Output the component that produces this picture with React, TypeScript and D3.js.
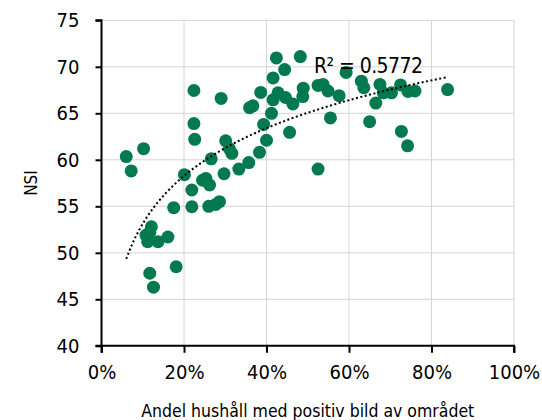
import React, { useEffect, useRef } from 'react';
import * as d3 from 'd3';

// share of households with a positive image of the area (%)
const share = [
  6.0, 10.2, 7.2, 12.1, 10.8, 11.7, 11.2, 13.7, 16.1, 18.1, 11.7, 12.6,
  17.5, 20.1, 21.9, 21.9, 22.6, 22.4, 22.4, 24.5, 25.3, 26.2, 26.0, 27.7,
  28.6, 26.6, 29.0, 29.7, 30.1, 31.0, 31.6, 33.3, 35.7, 35.9, 36.7, 38.3,
  39.3, 40.0, 38.6, 41.2, 41.6, 41.6, 42.4, 42.8, 44.4, 44.6, 46.4, 45.6,
  48.2, 48.9, 48.8, 52.5, 52.5, 53.7, 54.9, 55.5, 57.6, 59.3, 63.0, 63.6,
  65.0, 66.5, 67.5, 68.3, 70.3, 72.5, 72.7, 74.2, 74.3, 76.0, 83.9,
];
// NSI value for each area
const nsi = [
  60.35, 61.2, 58.8, 52.8, 51.9, 52.2, 51.2, 51.2, 51.7, 48.5, 47.8, 46.3,
  54.85, 58.4, 56.75, 54.95, 62.2, 63.9, 67.45, 57.8, 58.0, 57.3, 55.0, 55.2,
  55.5, 60.1, 66.6, 58.5, 62.05, 61.2, 60.7, 59.0, 59.7, 65.6, 65.8, 60.8,
  63.8, 62.1, 67.25, 65.0, 66.45, 68.8, 70.95, 67.2, 69.7, 66.7, 66.0, 62.95,
  71.1, 67.7, 66.8, 59.0, 68.0, 68.1, 67.4, 64.5, 66.9, 69.4, 68.45, 67.75,
  64.1, 66.1, 68.1, 67.2, 67.2, 68.05, 63.05, 61.5, 67.35, 67.4, 67.55,
];
const xTicks = [0, 20, 40, 60, 80, 100];
const yTicks = [40, 45, 50, 55, 60, 65, 70, 75];
const r2Label = 'R² = 0.5772';

export default function App() {
  const ref = useRef<SVGSVGElement>(null);

  useEffect(() => {
    const font = '"DejaVu Sans Condensed", "DejaVu Sans", sans-serif';
    const green = '#03794f';

    const svg = d3.select(ref.current);
    svg.selectAll('*').remove();

    const x = d3.scaleLinear().domain([0, 100]).range([101.5, 514]);
    const y = d3.scaleLinear().domain([40, 75]).range([345.8, 20.3]);

    // 网格线
    const grid = svg.append('g');
    grid
      .selectAll('line.v')
      .data(xTicks.slice(1))
      .enter()
      .append('line')
      .attr('x1', (d) => x(d))
      .attr('x2', (d) => x(d))
      .attr('y1', y(40))
      .attr('y2', y(75))
      .attr('stroke', '#d4d4d4')
      .attr('stroke-width', 1);
    grid
      .selectAll('line.h')
      .data(yTicks.slice(1))
      .enter()
      .append('line')
      .attr('x1', x(0))
      .attr('x2', x(100))
      .attr('y1', (d) => y(d))
      .attr('y2', (d) => y(d))
      .attr('stroke', '#d4d4d4')
      .attr('stroke-width', 1);

    // 坐标轴
    const xAxis = d3
      .axisBottom(x)
      .tickValues(xTicks)
      .tickSize(7)
      .tickPadding(12)
      .tickFormat((d) => `${d}%`);
    const gx = svg
      .append('g')
      .attr('transform', `translate(0,${y(40)})`)
      .call(xAxis);
    const yAxis = d3.axisLeft(y).tickValues(yTicks).tickSize(6).tickPadding(16);
    const gy = svg
      .append('g')
      .attr('transform', `translate(${x(0)},0)`)
      .call(yAxis);

    [gx, gy].forEach((g) => {
      g.select('.domain')
        .attr('stroke', '#000')
        .attr('stroke-width', 2);
      g.selectAll('.tick line').attr('stroke', '#000').attr('stroke-width', 2);
      g.selectAll('.tick text')
        .attr('fill', '#000')
        .style('font-family', font)
        .style('font-size', '20px');
    });
    gx.select('.domain').attr('d', `M${x(0)},7V0H${x(100)}V7`);
    gy.select('.domain').attr('d', `M-6,${y(75)}H0V${y(40)}H-6`);

    // 数据点
    const data = share.map((s, i) => [s, nsi[i]]);
    svg
      .append('g')
      .selectAll('circle')
      .data(data)
      .enter()
      .append('circle')
      .attr('cx', (d) => x(d[0]))
      .attr('cy', (d) => y(d[1]))
      .attr('r', 6.5)
      .attr('fill', green);

    // 对数趋势线 y = a ln(x) + b
    const lx = data.map((d) => Math.log(d[0] / 100));
    const mx = d3.mean(lx) as number;
    const my = d3.mean(nsi) as number;
    const a =
      d3.sum(lx, (v, i) => (v - mx) * (nsi[i] - my)) /
      d3.sum(lx, (v) => (v - mx) * (v - mx));
    const b = my - a * mx;
    const [x0, x1] = d3.extent(share) as [number, number];
    const trend = d3.range(0, 101).map((i) => {
      const xv = x0 + ((x1 - x0) * i) / 100;
      return [xv, a * Math.log(xv / 100) + b];
    });
    svg
      .append('path')
      .datum(trend)
      .attr(
        'd',
        d3
          .line()
          .x((d) => x(d[0]))
          .y((d) => y(d[1]))
      )
      .attr('fill', 'none')
      .attr('stroke', '#000')
      .attr('stroke-width', 2)
      .attr('stroke-dasharray', '2 2.5');

    svg
      .append('text')
      .attr('x', 314)
      .attr('y', 72.7)
      .attr('textLength', 109)
      .attr('lengthAdjust', 'spacing')
      .style('font-family', font)
      .style('font-size', '21px')
      .text(r2Label);

    // 轴标题
    svg
      .append('text')
      .attr('x', (x(0) + x(100)) / 2)
      .attr('y', 416.7)
      .attr('text-anchor', 'middle')
      .style('font-family', font)
      .style('font-size', '17.5px')
      .text('Andel hushåll med positiv bild av området');
    svg
      .append('text')
      .attr('transform', `translate(36.7,183) rotate(-90)`)
      .attr('text-anchor', 'middle')
      .style('font-family', font)
      .style('font-size', '17px')
      .text('NSI');
  }, []);

  return (
    <svg
      ref={ref}
      width={542}
      height={420}
      style={{ position: 'absolute', left: 0, top: 0, background: '#fff' }}
    />
  );
}
